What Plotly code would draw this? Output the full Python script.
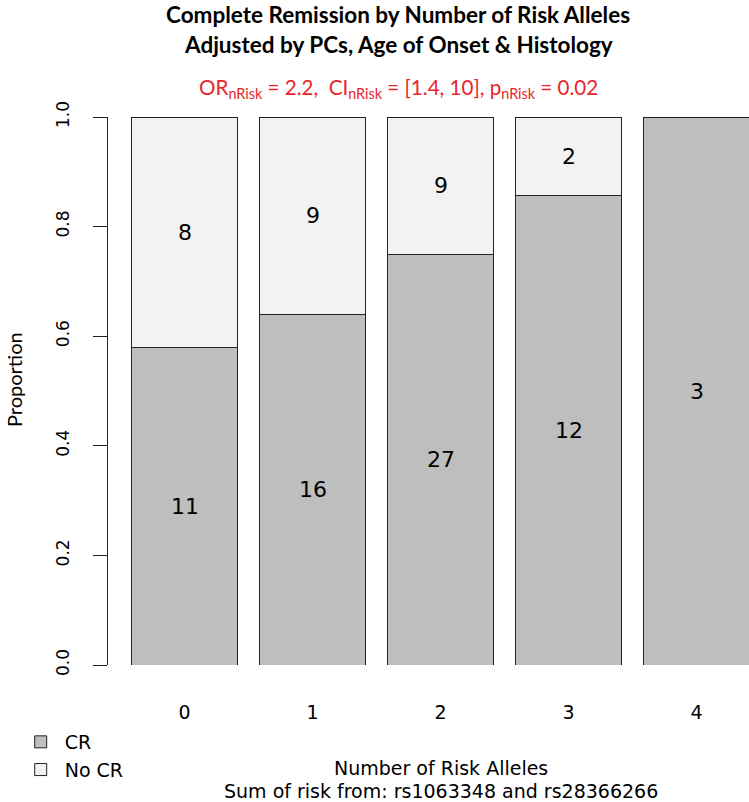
import plotly.graph_objects as go

# ---- data ----
risk_alleles = [0, 1, 2, 3, 4]
tick_labels = ["0", "1", "2", "3", "4"]
cr_counts = [11, 16, 27, 12, 3]
nocr_counts = [8, 9, 9, 2, 0]

totals = [a + b for a, b in zip(cr_counts, nocr_counts)]
cr_prop = [a / t for a, t in zip(cr_counts, totals)]
nocr_prop = [b / t for b, t in zip(nocr_counts, totals)]

W, H = 749, 802
L, R, T, B = 108, 0, 117, 137
PW, PH = W - L - R, H - T - B


def px(x):
    return (x - L) / PW


def py(y):
    return (H - B - y) / PH


AX_FONT = "DejaVu Sans"
TITLE_FONT = "Lato"

fig = go.Figure()
fig.add_trace(go.Bar(
    x=risk_alleles, y=cr_prop, name="CR", width=0.833,
    marker=dict(color="#bebebe", line=dict(color="#222222", width=1)),
    hoverinfo="skip",
))
fig.add_trace(go.Bar(
    x=risk_alleles, y=nocr_prop, name="No CR", width=0.833,
    marker=dict(color="#f2f2f2", line=dict(color="#222222", width=1)),
    hoverinfo="skip",
))

annotations = []
for xv, c, p in zip(risk_alleles, cr_counts, cr_prop):
    if c > 0:
        annotations.append(dict(x=xv, y=p / 2, xref="x", yref="y", text=str(c),
                                showarrow=False, font=dict(family=AX_FONT, size=22, color="black")))
for xv, c, p, q in zip(risk_alleles, nocr_counts, cr_prop, nocr_prop):
    if c > 0:
        annotations.append(dict(x=xv, y=p + q / 2, xref="x", yref="y", text=str(c),
                                showarrow=False, font=dict(family=AX_FONT, size=22, color="black")))

# titles
annotations += [
    dict(x=px(398), y=py(15), xref="paper", yref="paper", text="<b>Complete Remission by Number of Risk Alleles</b>",
         showarrow=False, xanchor="center", yanchor="middle",
         font=dict(family=TITLE_FONT, size=22.5, color="black")),
    dict(x=px(398), y=py(45), xref="paper", yref="paper", text="<b>Adjusted by PCs, Age of Onset &amp; Histology</b>",
         showarrow=False, xanchor="center", yanchor="middle",
         font=dict(family=TITLE_FONT, size=22.5, color="black")),
    dict(x=px(398), y=py(88), xref="paper", yref="paper",
         text="OR<sub>nRisk</sub> = 2.2,&nbsp; CI<sub>nRisk</sub> = [1.4, 10], p<sub>nRisk</sub> = 0.02",
         showarrow=False, xanchor="center", yanchor="middle",
         font=dict(family=TITLE_FONT, size=20.6, color="#e8262b")),
    dict(x=px(14), y=py(380), xref="paper", yref="paper", text="Proportion", textangle=-90,
         showarrow=False, xanchor="center", yanchor="middle",
         font=dict(family=TITLE_FONT, size=20, color="black")),
    dict(x=px(441), y=py(768), xref="paper", yref="paper", text="Number of Risk Alleles",
         showarrow=False, xanchor="center", yanchor="middle",
         font=dict(family=AX_FONT, size=19, color="black")),
    dict(x=px(441), y=py(791), xref="paper", yref="paper", text="Sum of risk from: rs1063348 and rs28366266",
         showarrow=False, xanchor="center", yanchor="middle",
         font=dict(family=AX_FONT, size=19, color="black")),
]

fig.update_layout(
    width=W, height=H,
    margin=dict(l=L, r=R, t=T, b=B, pad=0, autoexpand=False),
    paper_bgcolor="white", plot_bgcolor="white",
    barmode="stack",
    showlegend=True,
    legend=dict(xref="container", yref="container", x=0.0223, y=0.0985, xanchor="left", yanchor="top",
                traceorder="normal", itemwidth=38, font=dict(family=AX_FONT, size=19, color="black"),
                bgcolor="rgba(0,0,0,0)", itemclick=False, itemdoubleclick=False),
    annotations=annotations,
    xaxis=dict(range=[-0.598, 4.41], tickvals=risk_alleles, ticktext=tick_labels,
               showgrid=False, zeroline=False, showline=False, ticks="", automargin=False,
               ticklabelstandoff=34,
               tickfont=dict(family=AX_FONT, size=19, color="black")),
    yaxis=dict(range=[0, 1], tickvals=[0, 0.2, 0.4, 0.6, 0.8, 1.0],
               ticktext=["0.0", "0.2", "0.4", "0.6", "0.8", "1.0"],
               showgrid=False, zeroline=False, showline=True, linecolor="#222222", linewidth=1,
               ticks="outside", ticklen=14, tickcolor="#222222", tickwidth=1, automargin=False,
               tickangle=-90, ticklabelstandoff=17,
               tickfont=dict(family=AX_FONT, size=17, color="black")),
)

fig.write_html("out.html", config={"displayModeBar": False},
               post_script="document.body.style.margin='0';document.body.style.padding='0';")
